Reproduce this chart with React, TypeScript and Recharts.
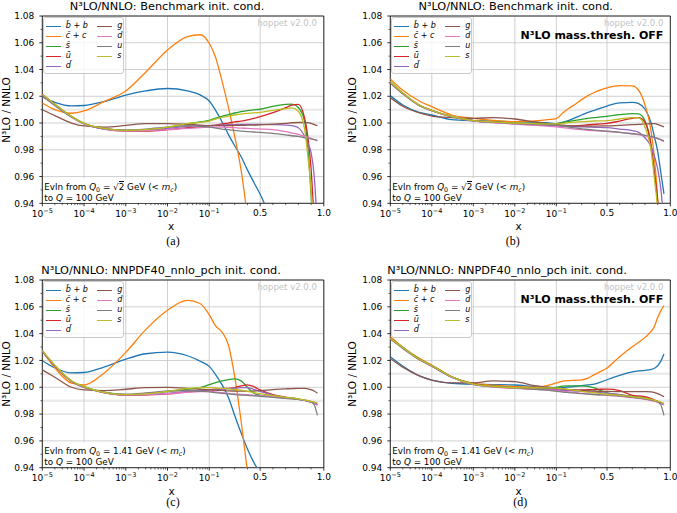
import React from 'react';
import {
  LineChart,
  Line,
  XAxis,
  YAxis,
  CartesianGrid,
  ReferenceArea,
  Legend,
} from 'recharts';

const FONT = '"DejaVu Sans", sans-serif';

// x sampling points shared by all curves
const xs = [
  1e-5, 2e-5, 5e-5, 1e-4, 3e-4, 1e-3, 3e-3, 1e-2, 3e-2, 0.06, 0.1, 0.15, 0.2, 0.25,
  0.3, 0.35, 0.4, 0.45, 0.5, 0.6, 0.7, 0.75, 0.8, 0.85, 0.875, 0.9, 0.925, 0.95,
];

const majorX = [1e-5, 1e-4, 1e-3, 1e-2, 1e-1, 0.5, 1.0];
const majorXLabels = ['10^-5', '10^-4', '10^-3', '10^-2', '10^-1', '0.5', '1.0'];
const minorX = [
  2e-5, 3e-5, 4e-5, 5e-5, 6e-5, 7e-5, 8e-5, 9e-5,
  2e-4, 3e-4, 4e-4, 5e-4, 6e-4, 7e-4, 8e-4, 9e-4,
  2e-3, 3e-3, 4e-3, 5e-3, 6e-3, 7e-3, 8e-3, 9e-3,
  2e-2, 3e-2, 4e-2, 5e-2, 6e-2, 7e-2, 8e-2, 9e-2,
  0.2, 0.3, 0.4, 0.6, 0.7, 0.8, 0.9,
];
const majorY = [0.94, 0.96, 0.98, 1.0, 1.02, 1.04, 1.06, 1.08];
const minorY = [0.95, 0.97, 0.99, 1.01, 1.03, 1.05, 1.07];
const bandY = [0.99, 1.01];
const Y_MIN = 0.94;
const Y_MAX = 1.08;

// (a) benchmark init. cond.
const aBb = [1.0196, 1.0155, 1.0128, 1.0131, 1.016, 1.0209, 1.024, 1.0258, 1.024, 1.021, 1.0165, 1.0095, 1.001, 0.9915, 0.983, 0.975, 0.965, 0.9557, 0.9467, 0.925, null, null, null, null, null, null, null, null];
const aCc = [1.015, 1.01, 1.0073, 1.009, 1.016, 1.024, 1.038, 1.0546, 1.0645, 1.066, 1.0596, 1.049, 1.0315, 1.012, 0.99, 0.965, 0.93, null, null, null, null, null, null, null, null, null, null, null];
const aSb = [1.0216, 1.014, 1.005, 0.9997, 0.996, 0.9945, 0.995, 0.9968, 0.9993, 1.0008, 1.002, 1.0037, 1.005, 1.0063, 1.0075, 1.0085, 1.0093, 1.0098, 1.0103, 1.0125, 1.014, 1.0141, 1.0116, 1.001, 0.981, 0.946, 0.9, null];
const aUb = [1.0213, 1.0138, 1.0048, 0.9995, 0.9955, 0.994, 0.994, 0.995, 0.9965, 0.9972, 0.998, 0.9985, 0.9993, 1.0, 1.0008, 1.0015, 1.0023, 1.0035, 1.0047, 1.0077, 1.0115, 1.0133, 1.014, 1.0035, 0.9895, 0.966, 0.925, null];
const aDb = [1.0205, 1.0135, 1.0045, 0.9995, 0.9955, 0.9943, 0.9945, 0.996, 0.9975, 0.998, 0.998, 0.9983, 0.9985, 0.9987, 0.9988, 0.999, 0.999, 0.999, 0.999, 0.9988, 0.9985, 0.998, 0.9965, 0.99, 0.985, 0.978, 0.96, 0.92];
const aG = [1.0099, 1.0055, 1.0, 0.9978, 0.997, 0.9982, 0.9995, 0.9995, 0.999, 0.9985, 0.998, 0.998, 0.998, 0.998, 0.9982, 0.9983, 0.9984, 0.9985, 0.9986, 0.9992, 0.9998, 1.0002, 1.0004, 1.0004, 1.0003, 0.9997, 0.9988, 0.998];
const aD = [1.0205, 1.0135, 1.0045, 0.9995, 0.9955, 0.9942, 0.9943, 0.995, 0.996, 0.9965, 0.997, 0.997, 0.997, 0.9968, 0.9965, 0.9962, 0.996, 0.9957, 0.9955, 0.995, 0.9935, 0.9925, 0.9915, 0.99, 0.9893, 0.9885, 0.9877, 0.9866];
const aU = [1.02, 1.013, 1.0045, 0.9995, 0.9958, 0.9948, 0.9955, 0.997, 0.998, 0.9975, 0.997, 0.9962, 0.9955, 0.995, 0.9945, 0.994, 0.9936, 0.9933, 0.993, 0.9922, 0.9912, 0.9905, 0.99, 0.989, 0.9886, 0.9882, 0.9876, 0.987];
const aS = [1.0216, 1.014, 1.005, 0.9997, 0.996, 0.9945, 0.995, 0.997, 0.9995, 1.0005, 1.0015, 1.003, 1.0042, 1.0052, 1.006, 1.0067, 1.0072, 1.0076, 1.0079, 1.0095, 1.0108, 1.0113, 1.0088, 0.995, 0.975, 0.95, 0.905, null];

// (b) benchmark init. cond., mass thresholds off
const bBb = [1.0205, 1.0135, 1.008, 1.006, 1.0025, 1.0017, 1.0014, 1.001, 1.0007, 1.0002, 0.9995, 1.0005, 1.002, 1.004, 1.006, 1.008, 1.0095, 1.0112, 1.0127, 1.015, 1.0155, 1.0145, 1.0105, 0.9995, 0.9895, 0.979, 0.963, 0.947];
const bCc = [1.033, 1.0245, 1.0165, 1.0122, 1.006, 1.0035, 1.002, 1.001, 1.0015, 1.0025, 1.0033, 1.0075, 1.011, 1.0141, 1.0175, 1.0205, 1.0228, 1.0248, 1.0263, 1.028, 1.0277, 1.0245, 1.0135, 0.993, 0.973, 0.944, 0.9, null];
const bSb = [1.031, 1.0225, 1.0135, 1.0095, 1.005, 1.0018, 1.0008, 1.0, 0.9995, 0.9993, 0.9995, 1.0005, 1.0012, 1.002, 1.0027, 1.0035, 1.004, 1.0046, 1.005, 1.0063, 1.0071, 1.0068, 1.0016, 0.982, 0.962, 0.94, 0.9, null];
const bUb = [1.0305, 1.022, 1.0133, 1.0093, 1.0048, 1.0017, 1.0005, 0.9995, 0.9987, 0.9982, 0.998, 0.9978, 0.9978, 0.998, 0.9983, 0.9987, 0.999, 0.9993, 0.9997, 1.0015, 1.0035, 1.004, 1.0005, 0.982, 0.962, 0.942, 0.9, null];
const bDb = [1.03, 1.022, 1.0132, 1.0093, 1.0048, 1.0017, 1.0005, 0.9995, 0.9988, 0.9983, 0.998, 0.9977, 0.9975, 0.9973, 0.9971, 0.997, 0.9968, 0.9967, 0.9966, 0.9955, 0.9943, 0.993, 0.989, 0.982, 0.975, 0.966, 0.951, 0.925];
const bG = [1.019, 1.0125, 1.0075, 1.0052, 1.004, 1.0035, 1.004, 1.003, 1.0008, 0.9995, 0.999, 0.9985, 0.998, 0.9978, 0.9977, 0.9977, 0.9977, 0.9978, 0.9978, 0.9983, 0.9988, 0.999, 0.9993, 0.9996, 0.9995, 0.999, 0.998, 0.9972];
const bD = [1.0302, 1.022, 1.0132, 1.0093, 1.0047, 1.0016, 1.0003, 0.9992, 0.9983, 0.9977, 0.9972, 0.9966, 0.996, 0.9955, 0.995, 0.9946, 0.9943, 0.994, 0.9937, 0.993, 0.992, 0.9913, 0.9905, 0.9895, 0.989, 0.9883, 0.9874, 0.9862];
const bU = [1.03, 1.0218, 1.013, 1.0092, 1.0048, 1.0018, 1.0006, 0.9996, 0.999, 0.9987, 0.9985, 0.9978, 0.997, 0.9963, 0.9957, 0.9952, 0.9947, 0.9943, 0.994, 0.993, 0.992, 0.9915, 0.9908, 0.99, 0.9893, 0.9885, 0.9876, 0.9866];
const bS = [1.031, 1.0225, 1.0135, 1.0095, 1.005, 1.0018, 1.0008, 1.0, 0.9995, 0.9993, 0.9993, 0.9998, 1.0003, 1.0006, 1.001, 1.0013, 1.0015, 1.0016, 1.0018, 1.003, 1.0041, 1.0038, 0.997, 0.978, 0.958, 0.936, 0.9, null];

// (c) NNPDF40_nnlo_pch init. cond.
const cBb = [1.0198, 1.0145, 1.0107, 1.011, 1.015, 1.021, 1.025, 1.0262, 1.0235, 1.0195, 1.0156, 1.0095, 1.002, 0.9925, 0.979, 0.966, 0.954, 0.944, 0.936, null, null, null, null, null, null, null, null, null];
const cCc = [1.027, 1.0145, 1.003, 1.0017, 1.0105, 1.026, 1.043, 1.0575, 1.0648, 1.0625, 1.0541, 1.0458, 1.0412, 1.0317, 1.008, 0.975, 0.937, 0.9, null, null, null, null, null, null, null, null, null, null];
const cSb = [1.027, 1.016, 1.0045, 1.0005, 0.9963, 0.9945, 0.995, 0.9968, 0.9985, 0.9997, 1.0019, 1.0035, 1.0047, 1.0057, 1.0062, 1.0048, 1.0, 0.9955, 0.994, 0.9932, 0.9922, 0.9917, 0.991, 0.9903, 0.9897, 0.989, 0.9882, 0.9868];
const cUb = [1.027, 1.016, 1.0045, 1.0, 0.996, 0.994, 0.9943, 0.995, 0.9965, 0.9973, 0.998, 0.9985, 0.999, 0.9992, 0.9998, 1.001, 1.0018, 1.0005, 0.998, 0.9945, 0.9927, 0.992, 0.9912, 0.9903, 0.9897, 0.989, 0.9882, 0.9873];
const cDb = [1.027, 1.016, 1.0045, 1.0, 0.996, 0.9942, 0.9945, 0.9955, 0.997, 0.9976, 0.998, 0.9983, 0.9987, 0.999, 0.9993, 0.9997, 0.9998, 0.9985, 0.997, 0.994, 0.9925, 0.9918, 0.991, 0.9902, 0.9895, 0.9888, 0.988, 0.9868];
const cG = [1.013, 1.0075, 1.0, 0.998, 0.9975, 0.9985, 0.9998, 0.9999, 0.9992, 0.9985, 0.998, 0.9978, 0.9976, 0.9973, 0.9972, 0.9971, 0.997, 0.9972, 0.9975, 0.9983, 0.9988, 0.999, 0.9992, 0.9992, 0.9988, 0.9982, 0.9972, 0.9955];
const cD = [1.027, 1.016, 1.0045, 1.0, 0.996, 0.9943, 0.9945, 0.9952, 0.9962, 0.9967, 0.997, 0.9965, 0.996, 0.9955, 0.995, 0.9947, 0.9944, 0.994, 0.9938, 0.993, 0.992, 0.9915, 0.991, 0.9903, 0.9897, 0.989, 0.988, 0.9868];
const cU = [1.027, 1.016, 1.0045, 1.0, 0.9962, 0.9948, 0.9957, 0.9972, 0.9975, 0.997, 0.9966, 0.996, 0.9955, 0.995, 0.9945, 0.9942, 0.994, 0.9936, 0.9932, 0.9925, 0.9917, 0.9913, 0.991, 0.9903, 0.99, 0.9893, 0.987, 0.979];
const cS = [1.0275, 1.0165, 1.0048, 1.0005, 0.9962, 0.9945, 0.995, 0.997, 0.999, 0.9997, 0.9998, 0.9995, 0.9992, 0.9988, 0.9983, 0.9978, 0.997, 0.996, 0.9952, 0.9938, 0.9925, 0.992, 0.9913, 0.9905, 0.99, 0.9895, 0.989, 0.9885];

// (d) NNPDF40_nnlo_pch init. cond., mass thresholds off
const dBb = [1.0228, 1.0158, 1.0085, 1.0054, 1.003, 1.0022, 1.002, 1.0017, 1.0005, 1.0, 0.9996, 0.9998, 1.0002, 1.0006, 1.0012, 1.0018, 1.0024, 1.0038, 1.0056, 1.0088, 1.0115, 1.0122, 1.0126, 1.0133, 1.0142, 1.016, 1.0195, 1.0248];
const dCc = [1.0378, 1.0298, 1.0215, 1.0166, 1.0079, 1.003, 1.0015, 1.0005, 1.0, 1.0012, 1.0032, 1.0046, 1.005, 1.0052, 1.0055, 1.0068, 1.0094, 1.0118, 1.0144, 1.0228, 1.0302, 1.0335, 1.0372, 1.0418, 1.0455, 1.052, 1.057, 1.061];
const dSb = [1.0365, 1.0298, 1.021, 1.0162, 1.0078, 1.0025, 1.0008, 0.9997, 0.9992, 0.999, 1.0, 1.0008, 1.001, 1.0011, 1.001, 1.0006, 0.9995, 0.9975, 0.9958, 0.9945, 0.9933, 0.9927, 0.992, 0.991, 0.9903, 0.9895, 0.9885, 0.9868];
const dUb = [1.0365, 1.0295, 1.0208, 1.016, 1.0077, 1.0023, 1.0005, 0.9995, 0.9988, 0.9984, 0.998, 0.9978, 0.9978, 0.9979, 0.998, 0.9982, 0.9983, 0.9985, 0.9986, 0.9975, 0.994, 0.9935, 0.993, 0.9915, 0.9905, 0.9895, 0.9885, 0.9873];
const dDb = [1.0362, 1.0293, 1.0207, 1.0158, 1.0076, 1.0022, 1.0004, 0.9994, 0.9987, 0.9983, 0.998, 0.9977, 0.9975, 0.9972, 0.997, 0.9967, 0.9963, 0.996, 0.9956, 0.9945, 0.993, 0.9923, 0.9915, 0.9905, 0.9898, 0.989, 0.988, 0.9873];
const dG = [1.0215, 1.015, 1.0085, 1.0054, 1.0033, 1.0032, 1.0047, 1.0042, 1.0012, 1.0, 0.9992, 0.9987, 0.9983, 0.998, 0.9977, 0.9975, 0.9972, 0.997, 0.9969, 0.9968, 0.9968, 0.9968, 0.9967, 0.9965, 0.996, 0.9953, 0.9942, 0.993];
const dD = [1.0362, 1.0293, 1.0207, 1.0158, 1.0075, 1.002, 1.0002, 0.9992, 0.9984, 0.998, 0.9975, 0.997, 0.9965, 0.996, 0.9955, 0.995, 0.9946, 0.9943, 0.994, 0.9932, 0.9922, 0.9917, 0.991, 0.99, 0.9895, 0.9888, 0.988, 0.987];
const dU = [1.036, 1.029, 1.0205, 1.0157, 1.0075, 1.0022, 1.0005, 0.9995, 0.9985, 0.9978, 0.9969, 0.9964, 0.996, 0.9956, 0.9952, 0.9949, 0.9946, 0.9944, 0.9943, 0.9935, 0.9925, 0.992, 0.9913, 0.9905, 0.99, 0.9893, 0.987, 0.979];
const dS = [1.0365, 1.0296, 1.0209, 1.0161, 1.0078, 1.0024, 1.0007, 0.9997, 0.9995, 0.9995, 0.9994, 0.999, 0.9983, 0.9977, 0.997, 0.9963, 0.9958, 0.9953, 0.9948, 0.994, 0.993, 0.9925, 0.9918, 0.991, 0.9903, 0.9896, 0.989, 0.988];

const SERIES = [
  { key: 'bb', label: 'b̄ + b', color: '#1f77b4' },
  { key: 'cc', label: 'c̄ + c', color: '#ff7f0e' },
  { key: 'sb', label: 's̄', color: '#2ca02c' },
  { key: 'ub', label: 'ū', color: '#d62728' },
  { key: 'db', label: 'd̄', color: '#9467bd' },
  { key: 'g', label: 'g', color: '#8c564b' },
  { key: 'd', label: 'd', color: '#e377c2' },
  { key: 'u', label: 'u', color: '#7f7f7f' },
  { key: 's', label: 's', color: '#bcbd22' },
];

// log below x=0.1, linear above
const warp = (x: number) => (x <= 0.1 ? Math.log10(x) + 5 : 4 + (x - 0.1) * 3.05);
const U_MAX = warp(1.0);
const majorU = majorX.map(warp);
const allXTicks = [...majorU, ...minorX.map(warp)];
const allYTicks = [...majorY, ...minorY];

const PANELS = [
  {
    id: 'a', ox: 0, oy: 0, left: 42.3, right: 323.8, top: 16, bottom: 203.3,
    title: 'N³LO/NNLO: Benchmark init. cond.', titleX: 167, xlabX: 171, capX: 173, capDy: 37.4, ylabX: 6,
    q0: 'sqrt', off: false, caption: '(a)',
    vals: { bb: aBb, cc: aCc, sb: aSb, ub: aUb, db: aDb, g: aG, d: aD, u: aU, s: aS },
  },
  {
    id: 'b', ox: 337, oy: 0, left: 53.3, right: 333.3, top: 16, bottom: 203.3,
    title: 'N³LO/NNLO: Benchmark init. cond.', titleX: 178.7, xlabX: 181.7, capX: 175.7, capDy: 37.4, ylabX: 15,
    q0: 'sqrt', off: true, caption: '(b)',
    vals: { bb: bBb, cc: bCc, sb: bSb, ub: bUb, db: bDb, g: bG, d: bD, u: bU, s: bS },
  },
  {
    id: 'c', ox: 0, oy: 255, left: 42.3, right: 323.8, top: 25, bottom: 212.7,
    title: 'N³LO/NNLO: NNPDF40_nnlo_pch init. cond.', titleX: 161, xlabX: 171.7, capX: 173, capDy: 34.5, ylabX: 6,
    q0: '1.41', off: false, caption: '(c)',
    vals: { bb: cBb, cc: cCc, sb: cSb, ub: cUb, db: cDb, g: cG, d: cD, u: cU, s: cS },
  },
  {
    id: 'd', ox: 337, oy: 255, left: 53.3, right: 333.3, top: 25, bottom: 212.7,
    title: 'N³LO/NNLO: NNPDF40_nnlo_pch init. cond.', titleX: 170, xlabX: 181.7, capX: 183.3, capDy: 34.5, ylabX: 15,
    q0: '1.41', off: true, caption: '(d)',
    vals: { bb: dBb, cc: dCc, sb: dSb, ub: dUb, db: dDb, g: dG, d: dD, u: dU, s: dS },
  },
];

const PW = 340;
const PH = 258;
const X_AXIS_H = 20;
const Y_AXIS_W = 40;

// bottom ticks: major ones carry a label, minor ones only a short mark
const XTick = ({ x, y, payload }: any) => {
  const i = majorU.findIndex((u) => Math.abs(u - payload.value) < 1e-6);
  if (i < 0) {
    return <line x1={x} x2={x} y1={y} y2={y + 1.8} stroke="#000" strokeWidth={0.6} />;
  }
  const [base, exp] = majorXLabels[i].split('^');
  return (
    <g>
      <line x1={x} x2={x} y1={y} y2={y + 3} stroke="#000" strokeWidth={0.8} />
      <text x={x} y={y + (exp ? 13.3 : 12.3)} textAnchor="middle" fontSize={9} fill="#000" fontFamily={FONT}>
        {base}
        {exp && (
          <tspan dy={-3.8} fontSize={6.5}>
            {exp.replace('-', '−')}
          </tspan>
        )}
      </text>
    </g>
  );
};

const YTick = ({ x, y, payload }: any) => {
  const v = payload.value as number;
  const major = majorY.some((m) => Math.abs(m - v) < 1e-9);
  if (!major) {
    return <line x1={x - 1.8} x2={x} y1={y} y2={y} stroke="#000" strokeWidth={0.6} />;
  }
  return (
    <g>
      <line x1={x - 3} x2={x} y1={y} y2={y} stroke="#000" strokeWidth={0.8} />
      <text x={x - 8} y={y + 3.2} textAnchor="end" fontSize={9} fill="#000" fontFamily={FONT}>
        {v.toFixed(2)}
      </text>
    </g>
  );
};

const Txt = ({ x, y, size, anchor = 'middle', style, children }: any) => (
  <div
    style={{
      position: 'absolute',
      left: x,
      top: y,
      transform: `translate(${anchor === 'middle' ? '-50%' : anchor === 'end' ? '-100%' : '0'}, -50%)`,
      fontSize: size,
      lineHeight: 1,
      whiteSpace: 'nowrap',
      fontFamily: FONT,
      ...style,
    }}
  >
    {children}
  </div>
);

const LegendBox = () => (
  <div
    style={{
      position: 'relative',
      width: 81,
      height: 57,
      boxSizing: 'border-box',
      background: 'rgba(255,255,255,0.8)',
      border: '0.8px solid #cccccc',
      borderRadius: 3,
      fontFamily: FONT,
      fontSize: 8,
      fontStyle: 'italic',
    }}
  >
    {SERIES.map((s, i) => {
      const col = i < 5 ? 0 : 1;
      const row = col ? i - 5 : i;
      return (
        <div
          key={s.key}
          style={{ position: 'absolute', left: col ? 53.5 : 2, top: 3 + row * 10, height: 10, display: 'flex', alignItems: 'center' }}
        >
          <span style={{ display: 'inline-block', width: 15, borderTop: `1.3px solid ${s.color}` }} />
          <span style={{ marginLeft: 5, lineHeight: '10px', color: '#000' }}>{s.label}</span>
        </div>
      );
    })}
  </div>
);

const sub = { fontSize: '0.72em', verticalAlign: '-0.25em' };

function Panel({ p }: { p: (typeof PANELS)[number] }) {
  // xw is the warped x coordinate used by the axis
  const rows = xs.map((x, i) => {
    const r: any = { xw: warp(x) };
    for (const s of SERIES) r[s.key] = (p.vals as any)[s.key][i];
    return r;
  });
  const margin = {
    top: p.top,
    left: p.left - Y_AXIS_W,
    right: PW - p.right,
    bottom: PH - p.bottom - X_AXIS_H,
  };
  const midY = (p.top + p.bottom) / 2;
  const yPix = (offset: any) => (v: number) =>
    offset.top + ((Y_MAX - v) / (Y_MAX - Y_MIN)) * offset.height;

  return (
    <div style={{ position: 'absolute', left: p.ox, top: p.oy, width: PW, height: PH }}>
      <LineChart width={PW} height={PH} data={rows} margin={margin}>
        {/* faint bands at +-1% */}
        <CartesianGrid
          vertical={false}
          stroke="#ebebeb"
          strokeWidth={2.5}
          horizontalCoordinatesGenerator={({ offset }: any) => bandY.map(yPix(offset))}
        />
        <CartesianGrid
          stroke="#c4c4c4"
          strokeWidth={0.8}
          verticalCoordinatesGenerator={({ offset }: any) =>
            majorU.map((u) => offset.left + (u / U_MAX) * offset.width)
          }
          horizontalCoordinatesGenerator={({ offset }: any) => majorY.map(yPix(offset))}
        />
        <XAxis
          dataKey="xw"
          type="number"
          domain={[0, U_MAX]}
          allowDataOverflow
          ticks={allXTicks}
          interval={0}
          height={X_AXIS_H}
          axisLine={false}
          tickLine={false}
          tickSize={0}
          tickMargin={0}
          tick={<XTick />}
        />
        <YAxis
          type="number"
          domain={[Y_MIN, Y_MAX]}
          allowDataOverflow
          ticks={allYTicks}
          interval={0}
          width={Y_AXIS_W}
          axisLine={false}
          tickLine={false}
          tickSize={0}
          tickMargin={0}
          tick={<YTick />}
        />
        {SERIES.map((s) => (
          <Line
            key={s.key}
            type="monotone"
            dataKey={s.key}
            stroke={s.color}
            strokeWidth={1.3}
            dot={false}
            activeDot={false}
            connectNulls={false}
            isAnimationActive={false}
          />
        ))}
        <ReferenceArea x1={0} x2={U_MAX} y1={Y_MIN} y2={Y_MAX} fill="none" stroke="#000" strokeWidth={0.8} />
        <Legend
          layout="vertical"
          align="center"
          verticalAlign="middle"
          wrapperStyle={{ left: p.left + 0.5, top: p.top + 1, width: 81, height: 57 }}
          content={() => <LegendBox />}
        />
      </LineChart>

      <Txt x={p.titleX} y={p.top - 9.5} size={11.3}>{p.title}</Txt>
      <Txt x={p.ylabX} y={midY} size={10.5} style={{ transform: 'translate(-50%, -50%) rotate(-90deg)' }}>
        N³LO / NNLO
      </Txt>
      <Txt x={p.xlabX} y={p.bottom + 23} size={10.5}>x</Txt>
      <Txt x={p.capX} y={p.bottom + p.capDy} size={12} style={{ fontFamily: '"Liberation Serif", serif' }}>
        {p.caption}
      </Txt>
      <Txt x={p.right - 7} y={p.top + 7} size={8.5} anchor="end" style={{ color: '#c4c4c4' }}>
        hoppet v2.0.0
      </Txt>
      {p.off && (
        <Txt x={p.right - 7} y={p.top + 19.3} size={11} anchor="end" style={{ fontWeight: 'bold' }}>
          N³LO mass.thresh. OFF
        </Txt>
      )}

      <div
        style={{
          position: 'absolute',
          left: p.left + 1,
          top: p.bottom - 25.5,
          width: 136,
          height: 25,
          background: 'rgba(255,255,255,0.85)',
        }}
      />
      <Txt x={p.left + 2} y={p.bottom - 15.5} size={8.8} anchor="start">
        Evln from <i>Q</i>
        <span style={sub}>0</span> ={' '}
        {p.q0 === 'sqrt' ? (
          <span>
            √<span style={{ borderTop: '0.7px solid #000' }}>2</span>
          </span>
        ) : (
          '1.41'
        )}{' '}
        GeV (&lt; <i>m</i>
        <span style={{ ...sub, fontStyle: 'italic' }}>c</span>)
      </Txt>
      <Txt x={p.left + 2} y={p.bottom - 5.8} size={8.8} anchor="start">
        to <i>Q</i> = 100 GeV
      </Txt>
    </div>
  );
}

export default function App() {
  return (
    <div style={{ position: 'absolute', left: 0, top: 0, width: 677, height: 513, background: '#fff', fontFamily: FONT }}>
      {PANELS.map((p) => (
        <Panel key={p.id} p={p} />
      ))}
    </div>
  );
}
